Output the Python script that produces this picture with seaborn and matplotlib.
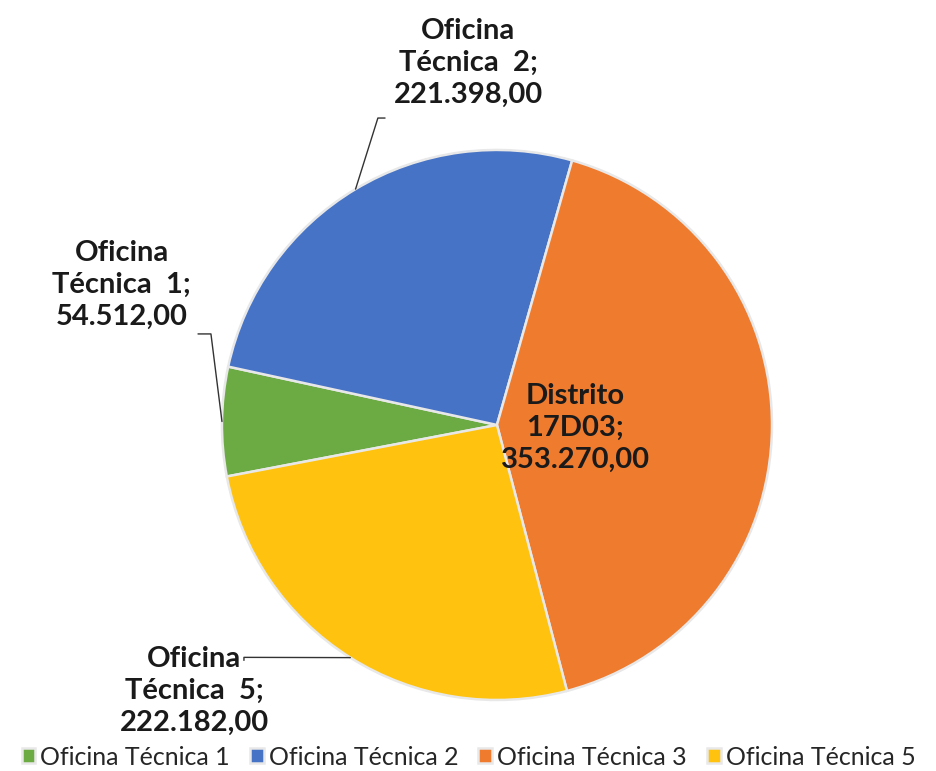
import numpy as np
import matplotlib.pyplot as plt
import seaborn as sns

# data
oficinas = ['Oficina Técnica 1', 'Oficina Técnica 2', 'Oficina Técnica 3', 'Oficina Técnica 5']
valores = [54512.00, 221398.00, 353270.00, 222182.00]
etiquetas = ['Oficina\nTécnica  1;\n54.512,00',
             'Oficina\nTécnica  2;\n221.398,00',
             'Distrito\n17D03;\n353.270,00',
             'Oficina\nTécnica  5;\n222.182,00']
colores = ['#6CAB44', '#4673C5', '#EE7B2E', '#FFC20E']

sns.set_theme(style='white')
plt.rcParams['font.family'] = ['Lato', 'DejaVu Sans']

fig = plt.figure(figsize=(9.37, 7.71), dpi=100)
ax = fig.add_axes([0, 0, 1, 1])

wedges, _ = ax.pie(valores, colors=sns.color_palette(colores), startangle=190.8,
                   counterclock=False, radius=1,
                   wedgeprops=dict(edgecolor='#e8e8e8', linewidth=1.8))

# axes limits so that the pie sits where it does in the reference
ax.set_xlim(-1.807, 1.6)
ax.set_ylim(-1.258, 1.545)
ax.set_aspect('equal')
ax.axis('off')

# label placement (text centre, elbow offset, end offset) per slice
pos_texto = {0: (-1.364, 0.51), 1: (-0.105, 1.318), 2: (0.284, -0.011), 3: (-1.10, -0.968)}
codo = {0: (-1.040, 0.331), 1: (-0.433, 1.116), 3: (-0.92, -0.845)}
fin = {0: (-1.087, 0.331), 1: (-0.407, 1.116), 3: (-0.92, -0.856)}

for i, w in enumerate(wedges):
    ang = np.deg2rad((w.theta1 + w.theta2) / 2)
    x0, y0 = np.cos(ang), np.sin(ang)
    tx, ty = pos_texto[i]
    ax.text(tx, ty, etiquetas[i], ha='center', va='center', fontsize=21,
            fontweight='bold', color='#1a1a1a', linespacing=1.28)
    if i in codo:
        cx, cy = codo[i]
        ex, ey = fin[i]
        ax.plot([x0, cx, ex], [y0, cy, ey], color='#333333', lw=1.0)

leg = ax.legend(wedges, oficinas, loc='lower center', bbox_to_anchor=(0.5, 0.003),
                ncol=4, frameon=False, fontsize=18, borderpad=0, borderaxespad=0,
                handlelength=0.55, handleheight=0.55, handletextpad=0.2, columnspacing=0.8)

fig.savefig('out.png', dpi=100)
